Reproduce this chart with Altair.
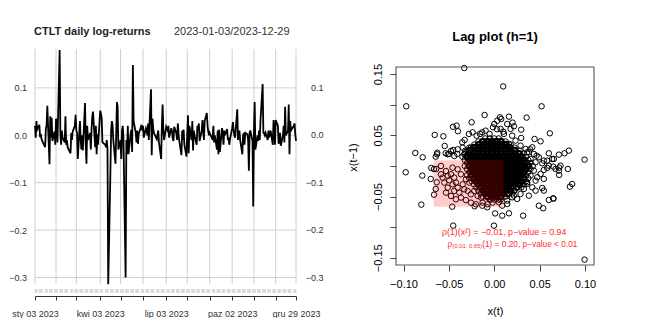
import altair as alt
import pandas as pd

FONT = "Liberation Sans"

# ---------------- time series (daily log-returns) ----------------
HOLIDAYS = ["2023-01-16", "2023-02-20", "2023-04-07", "2023-05-29", "2023-06-19",
            "2023-07-04", "2023-09-04", "2023-11-23", "2023-12-25"]
JAN = [0.020, -0.005, 0.030, 0.012, 0.022, -0.004, 0.003, -0.008, -0.012, -0.025,
       0.015, 0.020, 0.062, -0.061, 0.040, -0.005, 0.037, -0.012, 0.008, -0.020]
FEB = [0.035, 0.030, -0.015, 0.180, 0.000, -0.020, 0.010, -0.005, -0.015, 0.040,
       -0.020, -0.010, -0.025, -0.038, 0.005, -0.010, 0.008, 0.020, 0.043]
MAR = [0.010, 0.005, -0.050, 0.030, -0.010, -0.030, 0.000, -0.032, 0.068, -0.020,
       -0.060, 0.020, -0.010, 0.005, -0.030, 0.012, 0.040, 0.050, -0.025, 0.020,
       -0.040, 0.002, -0.020]
APR = [0.052, 0.045, 0.035, -0.015, -0.020, -0.025, -0.010, -0.030, -0.314, -0.078,
       0.010, 0.030, 0.022, -0.010, -0.060, 0.000, 0.070, 0.060, -0.030]
MAY = [-0.010, -0.050, 0.010, 0.020, -0.005, -0.300, -0.010, -0.040, 0.020, -0.040,
       0.005, 0.012, -0.035, 0.148, 0.030, 0.005, -0.015, 0.010, -0.018, 0.002,
       0.022, 0.010]
JUN = [0.020, -0.005, 0.015, 0.010, 0.000, 0.025, -0.010, 0.097, -0.042, 0.035,
       0.015, 0.005, -0.008, 0.002, 0.010, -0.015, -0.050, 0.020, 0.065, 0.012,
       -0.010]
JUL = [0.018, 0.010, 0.020, -0.005, 0.015, 0.008, -0.008, -0.012, 0.018, 0.004,
       -0.010, 0.025, 0.003, -0.012, -0.042, 0.010, -0.010, 0.012, -0.020, -0.045]
AUG = [0.005, 0.042, -0.038, 0.020, -0.010, 0.030, -0.032, 0.010, 0.000, -0.020,
       0.020, 0.012, 0.025, -0.012, 0.010, 0.032, 0.008, -0.010, 0.030, 0.047,
       0.020, 0.008, 0.000]
SEP = [0.005, -0.010, 0.020, -0.015, 0.000, -0.030, 0.010, -0.040, 0.012, -0.035,
       0.015, 0.005, -0.020, 0.010, 0.000, 0.013, -0.010, -0.005, -0.020, -0.008]
OCT = [0.015, 0.028, 0.010, 0.000, -0.005, 0.055, -0.010, 0.005, 0.010, -0.010,
       -0.040, 0.000, 0.005, -0.020, 0.005, 0.002, -0.010, -0.075, 0.005, 0.010,
       -0.012, -0.150]
NOV = [0.010, 0.070, -0.030, 0.000, -0.012, 0.010, -0.010, 0.030, 0.108, 0.005,
       0.005, 0.000, 0.005, -0.010, 0.010, -0.005, 0.010, -0.020, 0.032, 0.010,
       -0.020]
DEC = [0.032, 0.020, -0.018, -0.010, 0.005, -0.022, 0.000, 0.020, -0.015, 0.060,
       0.000, 0.010, 0.065, -0.040, 0.030, 0.010, 0.020, 0.025, 0.003, -0.012]
RETURNS = JAN + FEB + MAR + APR + MAY + JUN + JUL + AUG + SEP + OCT + NOV + DEC

TICK_DATES = ["2023-01-03", "2023-02-01", "2023-03-01", "2023-04-03", "2023-05-01",
              "2023-06-01", "2023-07-03", "2023-08-01", "2023-09-01", "2023-10-02",
              "2023-11-01", "2023-12-01", "2023-12-29"]
LABEL_DATES = ["2023-01-03", "2023-04-03", "2023-07-03", "2023-10-02", "2023-12-29"]
LABEL_TEXTS = ["sty 03 2023", "kwi 03 2023", "lip 03 2023", "paz 02 2023", "gru 29 2023"]
TS_Y_TICKS = [0.1, 0.0, -0.1, -0.2, -0.3]
TS_Y_DOMAIN = [-0.3137, 0.182]
TS_TITLE = "CTLT daily log-returns"
TS_RANGE = "2023-01-03/2023-12-29"

# ---------------- lag plot ----------------
LAG_TITLE = "Lag plot (h=1)"
LAG_X_DOMAIN = [-0.1083, 0.1100]
LAG_Y_DOMAIN = [-0.1618, 0.1911]
LAG_BOX_X = [-0.1083, 0.1100]
LAG_BOX_Y = [-0.1618, 0.1618]
LAG_X_TICKS = [-0.10, -0.05, 0.0, 0.05, 0.10]
LAG_Y_TICKS = [-0.15, -0.10, -0.05, 0.0, 0.05, 0.10, 0.15]
LAG_Y_LABELLED = [-15, -5, 5, 15]   # in hundredths
RECT_X = [-0.0667, 0.0103]
RECT_Y = [-0.0665, 0.0093]

SCATTER = [
    (-0.0330, 0.1600), (-0.0970, 0.0975), (0.0099, 0.1300), (0.0522, 0.0975),
    (-0.0106, 0.0833), (0.0357, 0.0790), (-0.0249, 0.0714), (0.0162, 0.0806),
    (0.0063, 0.0795), (0.0077, 0.0768), (0.0202, 0.0708), (0.0143, 0.0686),
    (0.0217, 0.0648), (0.0180, 0.0605), (0.0297, 0.0593), (0.0613, 0.0534),
    (-0.0455, 0.0640), (-0.0414, 0.0659), (-0.0400, 0.0567), (-0.0656, 0.0507),
    (-0.0561, 0.0485), (-0.0352, 0.0387), (-0.0326, 0.0425), (-0.0279, 0.0523),
    (-0.0238, 0.0550), (-0.0194, 0.0495), (-0.0157, 0.0523), (-0.0132, 0.0550),
    (-0.0095, 0.0577), (-0.0051, 0.0523), (-0.0014, 0.0632), (0.0030, 0.0600),
    (0.0100, 0.0560), (0.0445, 0.0441), (0.0511, 0.0403), (0.0297, 0.0458),
    (0.0419, 0.0305), (0.0396, 0.0273), (0.0363, 0.0224), (0.0467, 0.0168),
    (0.0547, 0.0087), (0.0639, 0.0114), (0.0602, 0.0207), (0.0713, 0.0185),
    (0.0775, 0.0207), (0.0823, 0.0250), (0.0996, 0.0103), (-0.0870, 0.0212),
    (-0.0789, 0.0142), (-0.0546, 0.0327), (-0.0645, 0.0152), (-0.0628, 0.0217),
    (-0.0535, 0.0207), (-0.0499, 0.0196), (-0.0452, 0.0261), (-0.0407, 0.0196),
    (-0.0976, -0.0103), (-0.0793, -0.0158), (-0.0700, -0.0212), (-0.0694, -0.0033),
    (-0.0664, -0.0049), (-0.0639, -0.0049), (-0.0804, -0.0632), (-0.0664, -0.0469),
    (-0.0645, -0.0376), (-0.0634, -0.0267), (-0.0463, -0.0665), (-0.0452, -0.0975),
    (-0.0216, -0.0659), (-0.0132, -0.0649), (-0.0077, -0.0675), (-0.0003, -0.0975),
    (0.0010, -0.0775), (0.0996, -0.1530), (0.0859, -0.0294), (0.0834, -0.0338),
    (0.0650, -0.0528), (0.0602, -0.0556), (0.0492, -0.0649), (0.0540, -0.0691),
    (0.0812, -0.0049), (0.0713, -0.0076), (0.0650, -0.0011), (0.0584, -0.0033),
    (0.0547, -0.0065), (0.0547, -0.0403), (0.0529, -0.0360), (0.0456, -0.0403),
    (0.0319, -0.0812), (0.0162, -0.0773), (0.0088, -0.0812), (0.0474, -0.0185),
    (0.0363, -0.0267), (0.0382, -0.0485), (0.0253, -0.0539), (0.0143, -0.0621),
    (0.0217, -0.0485), (0.0716, -0.0147), (0.0716, -0.0027), (0.0654, -0.0534),
    (-0.0631, 0.0191), (-0.0513, 0.0191), (-0.0477, 0.0245), (-0.0440, 0.0163),
    (-0.0403, 0.0272), (-0.0348, 0.0300), (-0.0330, 0.0191), (-0.0293, 0.0245),
    (-0.0257, 0.0300),
    (-0.0532, -0.0082), (-0.0513, -0.0163), (-0.0496, -0.0233), (-0.0477, -0.0136),
    (-0.0441, -0.0190), (-0.0422, -0.0272), (-0.0403, -0.0354), (-0.0441, -0.0408),
    (-0.0385, -0.0436), (-0.0348, -0.0300), (-0.0330, -0.0381), (-0.0293, -0.0408),
    (-0.0257, -0.0463), (-0.0220, -0.0408), (-0.0183, -0.0490), (-0.0146, -0.0517),
    (-0.0110, -0.0436), (-0.0073, -0.0490), (-0.0036, -0.0545), (0.0000, -0.0517),
    (0.0037, -0.0463), (0.0073, -0.0545), (-0.0550, -0.0272), (-0.0459, -0.0300),
    (-0.0513, -0.0354), (-0.0367, -0.0136), (-0.0312, -0.0218), (-0.0275, -0.0272),
    (-0.0532, -0.0436), (-0.0477, -0.0490), (-0.0422, -0.0545), (-0.0367, -0.0517),
    (-0.0312, -0.0558), (-0.0257, -0.0599), (-0.0202, -0.0626), (-0.0128, -0.0599),
    (-0.0073, -0.0626), (-0.0018, -0.0599), (-0.0587, -0.0136), (-0.0569, -0.0190),
    (-0.0403, -0.0054), (-0.0459, -0.0027), (-0.0587, 0.0000),
    (0.0070, 0.0605), (0.0107, 0.0523), (0.0198, 0.0495), (0.0235, 0.0414),
    (0.0162, 0.0360), (0.0290, 0.0332), (0.0346, 0.0278), (0.0382, 0.0224),
    (0.0437, 0.0196), (0.0492, 0.0142), (0.0401, 0.0114), (0.0456, 0.0060),
    (0.0529, 0.0044), (0.0584, 0.0087), (0.0657, 0.0114), (0.0000, 0.0686),
    (0.0033, 0.0740), (0.0511, -0.0131), (0.0437, -0.0076), (0.0401, -0.0158),
    (0.0456, -0.0240), (0.0363, -0.0294), (0.0419, -0.0349), (0.0327, -0.0376),
    (0.0290, -0.0458), (0.0217, -0.0403), (0.0198, -0.0512), (0.0143, -0.0566),
    (0.0088, -0.0648), (0.0052, -0.0594), (0.0676, -0.0049), (0.0731, 0.0005),
    (0.0602, 0.0005), (0.0547, -0.0212),
]

# dense core of the cloud, read row by row (y level -> x positions)
CORE_Y = [0.045, 0.040, 0.035, 0.030, 0.025, 0.020, 0.015, 0.010, 0.005, 0.000,
          -0.005, -0.010, -0.015, -0.020, -0.025, -0.030, -0.035, -0.040, -0.045,
          -0.050, -0.055]
CORE_X = [
    [-0.010, -0.005, 0.000, 0.005],
    [-0.0175, -0.0125, -0.0075, -0.0025, 0.0025, 0.0075, 0.0125],
    [-0.022, -0.017, -0.012, -0.007, -0.002, 0.003, 0.008, 0.013, 0.018],
    [-0.0275, -0.0225, -0.0175, -0.0125, -0.0075, -0.0025, 0.0025, 0.0075, 0.0125, 0.0175, 0.0225],
    [-0.032, -0.027, -0.022, -0.017, -0.012, -0.007, -0.002, 0.003, 0.008, 0.013, 0.018, 0.023, 0.028],
    [-0.0325, -0.0275, -0.0225, -0.0175, -0.0125, -0.0075, -0.0025, 0.0025, 0.0075, 0.0125, 0.0175, 0.0225, 0.0275, 0.0325],
    [-0.035, -0.030, -0.025, -0.020, -0.015, -0.010, -0.005, 0.000, 0.005, 0.010, 0.015, 0.020, 0.025, 0.030, 0.035],
    [-0.0325, -0.0275, -0.0225, -0.0175, -0.0125, -0.0075, -0.0025, 0.0025, 0.0075, 0.0125, 0.0175, 0.0225, 0.0275, 0.0325, 0.0375],
    [-0.030, -0.025, -0.020, -0.015, -0.010, -0.005, 0.000, 0.005, 0.010, 0.015, 0.020, 0.025, 0.030, 0.035, 0.040],
    [-0.0325, -0.0275, -0.0225, -0.0175, -0.0125, -0.0075, -0.0025, 0.0025, 0.0075, 0.0125, 0.0175, 0.0225, 0.0275, 0.0325, 0.0375, 0.0425],
    [-0.030, -0.025, -0.020, -0.015, -0.010, -0.005, 0.000, 0.005, 0.010, 0.015, 0.020, 0.025, 0.030, 0.035, 0.040],
    [-0.0275, -0.0225, -0.0175, -0.0125, -0.0075, -0.0025, 0.0025, 0.0075, 0.0125, 0.0175, 0.0225, 0.0275, 0.0325, 0.0375],
    [-0.030, -0.025, -0.020, -0.015, -0.010, -0.005, 0.000, 0.005, 0.010, 0.015, 0.020, 0.025, 0.030, 0.035],
    [-0.0275, -0.0225, -0.0175, -0.0125, -0.0075, -0.0025, 0.0025, 0.0075, 0.0125, 0.0175, 0.0225, 0.0275, 0.0325, 0.0375],
    [-0.025, -0.020, -0.015, -0.010, -0.005, 0.000, 0.005, 0.010, 0.015, 0.020, 0.025, 0.030, 0.035],
    [-0.0225, -0.0175, -0.0125, -0.0075, -0.0025, 0.0025, 0.0075, 0.0125, 0.0175, 0.0225, 0.0275, 0.0325],
    [-0.020, -0.015, -0.010, -0.005, 0.000, 0.005, 0.010, 0.015, 0.020, 0.025, 0.030],
    [-0.0175, -0.0125, -0.0075, -0.0025, 0.0025, 0.0075, 0.0125, 0.0175, 0.0225],
    [-0.015, -0.010, -0.005, 0.000, 0.005, 0.010, 0.015, 0.020],
    [-0.0125, -0.0075, -0.0025, 0.0025, 0.0075, 0.0125],
    [-0.005, 0.000, 0.005],
]

ANNOT_TEXT = ["ρ(1)(x²) = −0.01, p−value = 0.94", "ρ", "(0.01, 0.65)",
              "(1) = 0.20, p−value < 0.01"]
ANNOT_X = [-0.0576, -0.0514, -0.0460, -0.0133]
ANNOT_Y = [-0.1136, -0.1316, -0.1348, -0.1316]
ANNOT_SIZE = [8.8, 8.3, 5.8, 8.3]

# ---------------- build tables ----------------
dates = pd.bdate_range("2023-01-03", "2023-12-29")
dates = dates[~dates.isin(pd.to_datetime(HOLIDAYS))]
assert len(dates) == len(RETURNS), (len(dates), len(RETURNS))
ts = pd.DataFrame({"date": dates.strftime("%Y-%m-%d"), "r": RETURNS})
grid_dates = pd.DataFrame({"d": TICK_DATES})
ygrid = pd.DataFrame({"v": TS_Y_TICKS})


def dt(s):
    y, m, d = (int(p) for p in s.split("-"))
    return alt.DateTime(year=y, month=m, date=d, utc=True)


W1, H1 = 261, 235
W2, H2 = 198, 216
GRID = "#cfcfcf"

xsc = alt.Scale(type="utc", domain=[dt(TICK_DATES[0]), dt(TICK_DATES[-1])], nice=False)
ysc = alt.Scale(domain=TS_Y_DOMAIN, nice=False, zero=False)

label_expr = ""
for d, t in zip(LABEL_DATES, LABEL_TEXTS):
    label_expr += f"utcFormat(datum.value, '%Y-%m-%d') == '{d}' ? '{t}' : "
label_expr += "''"

xaxis = alt.Axis(values=[dt(s) for s in TICK_DATES], labelExpr=label_expr, offset=12,
                 tickSize=4, tickColor="#333", domainColor="#333", domainWidth=1,
                 labelFont=FONT, labelFontSize=9, labelColor="#333", labelPadding=9,
                 labelFlush=False, labelOverlap=False, labelBound=False,
                 grid=False, title=None)
yaxis_left = alt.Axis(orient="left", values=TS_Y_TICKS, format=".1f", ticks=False,
                      domain=False, grid=False, labelFont=FONT,
                      labelFontSize=9, labelColor="#333", labelPadding=8.5, title=None)

vgrid = alt.Chart(grid_dates).mark_rule(color=GRID, strokeWidth=1).encode(
    x=alt.X("d:T", scale=xsc, axis=xaxis))
obs = alt.Chart(ts).mark_tick(color="#c4c4c4", thickness=0.8, size=4,
                              orient="vertical").encode(
    x=alt.X("date:T", scale=xsc, axis=xaxis),
    y=alt.YValue(H1 + 7))
hgrid_l = alt.Chart(ygrid).mark_rule(color=GRID, strokeWidth=1).encode(
    y=alt.Y("v:Q", scale=ysc, axis=yaxis_left))
rlabels = alt.Chart(ygrid).mark_text(align="right", baseline="middle", font=FONT,
                                     fontSize=9, color="#333").encode(
    y=alt.Y("v:Q", scale=ysc, axis=yaxis_left),
    x=alt.XValue(W1 + 27.5),
    text=alt.Text("v:Q", format=".1f"))
line = alt.Chart(ts).mark_line(color="black", strokeWidth=1.8).encode(
    x=alt.X("date:T", scale=xsc, axis=xaxis),
    y=alt.Y("r:Q", scale=ysc, axis=yaxis_left))
t1 = alt.Chart(pd.DataFrame({"t": [TS_TITLE]})).mark_text(
    align="left", baseline="alphabetic", font=FONT, fontSize=11, fontWeight="bold",
    color="#222").encode(x=alt.XValue(-1), y=alt.YValue(-14.5), text="t:N")
t2 = alt.Chart(pd.DataFrame({"t": [TS_RANGE]})).mark_text(
    align="left", baseline="alphabetic", font=FONT, fontSize=11, color="#333").encode(
    x=alt.XValue(139), y=alt.YValue(-14.5), text="t:N")

left = alt.layer(vgrid, obs, hgrid_l, rlabels, line, t1, t2).properties(
    width=W1, height=H1)

# ---------------- lag plot ----------------
# interior of the dense core drawn with heavier rings, its edge with normal rings
inner_pts, edge_pts = [], []
last = len(CORE_Y) - 1
for i, (yv, xs) in enumerate(zip(CORE_Y, CORE_X)):
    for j, xv in enumerate(xs):
        if i in (0, last) or j in (0, len(xs) - 1):
            edge_pts.append((xv, yv))
        else:
            inner_pts.append((xv, yv))
lag = pd.DataFrame(list(SCATTER) + edge_pts, columns=["xt", "xt1"])
core = pd.DataFrame(inner_pts, columns=["xt", "xt1"])

lxs = alt.Scale(domain=LAG_X_DOMAIN, nice=False, zero=False)
lys = alt.Scale(domain=LAG_Y_DOMAIN, nice=False, zero=False)
ylab_expr = (f"indexof({LAG_Y_LABELLED}, round(datum.value*100)) >= 0 ? "
             "format(datum.value, '.2f') : ''")
lxaxis = alt.Axis(values=LAG_X_TICKS, format=".2f", tickSize=6, tickColor="#444",
                  domain=False, grid=False, labelFont=FONT, labelFontSize=11,
                  labelColor="black", labelPadding=7.5, labelFlush=False,
                  labelOverlap=False, title="x(t)", titleFont=FONT, titleFontSize=11,
                  titleFontWeight="normal", titleColor="black", titlePadding=16)
lyaxis = alt.Axis(values=LAG_Y_TICKS, labelExpr=ylab_expr, tickSize=6, tickColor="#444",
                  domain=False, grid=False, labelFont=FONT, labelFontSize=11,
                  labelColor="black", labelAngle=270, labelAlign="center",
                  labelBaseline="bottom", labelPadding=6.5, labelOverlap=False,
                  labelFlush=False, title="x(t−1)", titleFont=FONT, titleFontSize=11,
                  titleFontWeight="normal", titleColor="black", titlePadding=14)

core_layer = alt.Chart(core).mark_point(shape="circle", filled=False, color="black",
                                        size=30, strokeWidth=2.2, opacity=1).encode(
    x=alt.X("xt:Q", scale=lxs, axis=lxaxis),
    y=alt.Y("xt1:Q", scale=lys, axis=lyaxis))
points = alt.Chart(lag).mark_point(shape="circle", filled=False, color="black",
                                   size=30, strokeWidth=1, opacity=1).encode(
    x=alt.X("xt:Q", scale=lxs, axis=lxaxis),
    y=alt.Y("xt1:Q", scale=lys, axis=lyaxis))
rect = alt.Chart(pd.DataFrame({"x0": [RECT_X[0]], "x1": [RECT_X[1]],
                               "y0": [RECT_Y[0]], "y1": [RECT_Y[1]]})).mark_rect(
    color="red", opacity=0.2).encode(
    x=alt.X("x0:Q", scale=lxs, axis=lxaxis), x2="x1:Q",
    y=alt.Y("y0:Q", scale=lys, axis=lyaxis), y2="y1:Q")
frame = alt.Chart(pd.DataFrame({"x0": [LAG_BOX_X[0]], "x1": [LAG_BOX_X[1]],
                                "y0": [LAG_BOX_Y[0]], "y1": [LAG_BOX_Y[1]]})).mark_rect(
    fillOpacity=0, stroke="#555", strokeWidth=1.1).encode(
    x=alt.X("x0:Q", scale=lxs, axis=lxaxis), x2="x1:Q",
    y=alt.Y("y0:Q", scale=lys, axis=lyaxis), y2="y1:Q")
annot = alt.Chart(pd.DataFrame({"x": ANNOT_X, "y": ANNOT_Y, "t": ANNOT_TEXT,
                                "s": ANNOT_SIZE})).mark_text(
    align="left", baseline="alphabetic", font=FONT, color="#ff2a2a").encode(
    x=alt.X("x:Q", scale=lxs, axis=lxaxis), y=alt.Y("y:Q", scale=lys, axis=lyaxis),
    text="t:N", size=alt.Size("s:Q", scale=None))
ltitle = alt.Chart(pd.DataFrame({"t": [LAG_TITLE]})).mark_text(
    align="center", baseline="alphabetic", font=FONT, fontSize=13, fontWeight="bold",
    color="black").encode(x=alt.XValue(W2 / 2), y=alt.YValue(-8), text="t:N")

right = alt.layer(core_layer, points, rect, frame, annot, ltitle).properties(
    width=W2, height=H2)

chart = alt.hconcat(left, right, spacing=23).properties(
    padding={"left": 0, "top": 17, "right": 0, "bottom": 0},
    background="white").configure_view(stroke=None)

chart.save("out.html", embed_options={"renderer": "svg", "actions": False})
